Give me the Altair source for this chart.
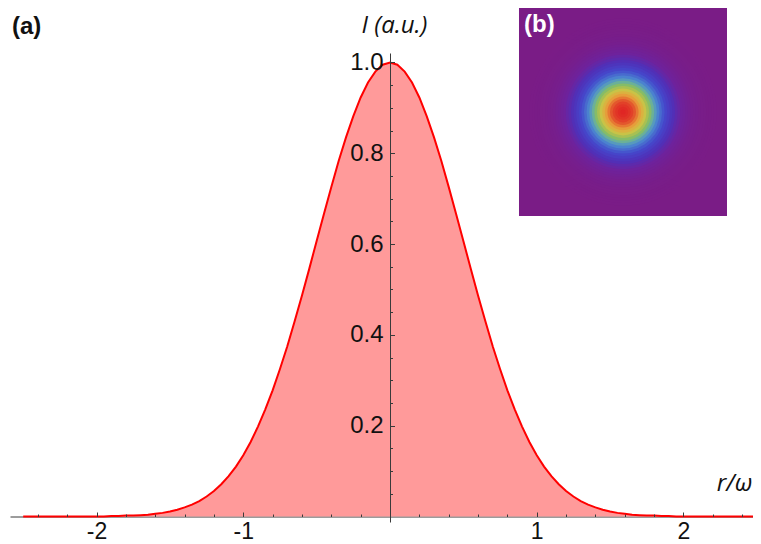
import altair as alt
import pandas as pd

# ---------------- data ----------------
r_values = [
    -2.50, -2.45, -2.40, -2.35, -2.30, -2.25, -2.20, -2.15, -2.10, -2.05,
    -2.00, -1.95, -1.90, -1.85, -1.80, -1.75, -1.70, -1.65, -1.60, -1.55,
    -1.50, -1.45, -1.40, -1.35, -1.30, -1.25, -1.20, -1.15, -1.10, -1.05,
    -1.00, -0.95, -0.90, -0.85, -0.80, -0.75, -0.70, -0.65, -0.60, -0.55,
    -0.50, -0.45, -0.40, -0.35, -0.30, -0.25, -0.20, -0.15, -0.10, -0.05,
    0.00,
    0.05, 0.10, 0.15, 0.20, 0.25, 0.30, 0.35, 0.40, 0.45, 0.50,
    0.55, 0.60, 0.65, 0.70, 0.75, 0.80, 0.85, 0.90, 0.95, 1.00,
    1.05, 1.10, 1.15, 1.20, 1.25, 1.30, 1.35, 1.40, 1.45, 1.50,
    1.55, 1.60, 1.65, 1.70, 1.75, 1.80, 1.85, 1.90, 1.95, 2.00,
    2.05, 2.10, 2.15, 2.20, 2.25, 2.30, 2.35, 2.40, 2.45, 2.50,
]
intensity = [
    0.000, 0.000, 0.000, 0.000, 0.000, 0.000, 0.000, 0.000, 0.000, 0.000,
    0.000, 0.000, 0.001, 0.001, 0.002, 0.002, 0.003, 0.004, 0.006, 0.008,
    0.011, 0.015, 0.020, 0.026, 0.034, 0.044, 0.056, 0.071, 0.089, 0.110,
    0.135, 0.164, 0.198, 0.236, 0.278, 0.325, 0.375, 0.430, 0.487, 0.546,
    0.607, 0.667, 0.726, 0.783, 0.835, 0.882, 0.923, 0.956, 0.980, 0.995,
    1.000,
    0.995, 0.980, 0.956, 0.923, 0.882, 0.835, 0.783, 0.726, 0.667, 0.607,
    0.546, 0.487, 0.430, 0.375, 0.325, 0.278, 0.236, 0.198, 0.164, 0.135,
    0.110, 0.089, 0.071, 0.056, 0.044, 0.034, 0.026, 0.020, 0.015, 0.011,
    0.008, 0.006, 0.004, 0.003, 0.002, 0.002, 0.001, 0.001, 0.000, 0.000,
    0.000, 0.000, 0.000, 0.000, 0.000, 0.000, 0.000, 0.000, 0.000, 0.000,
]

x_major = [-2, -1, 1, 2]
x_minor = [-2.4, -2.2, -1.8, -1.6, -1.4, -1.2, -0.8, -0.6, -0.4, -0.2,
           0.2, 0.4, 0.6, 0.8, 1.2, 1.4, 1.6, 1.8, 2.2, 2.4]
y_major = [0.2, 0.4, 0.6, 0.8, 1.0]
y_minor = [0.05, 0.1, 0.15, 0.25, 0.3, 0.35, 0.45, 0.5, 0.55,
           0.65, 0.7, 0.75, 0.85, 0.9, 0.95]

panel_labels = ["(a)", "(b)"]

# inset (b): image extent in units of r/w, and rainbow colour stops
inset_extent = [-2.0, 2.0]
inset_max_r = 1.8
rainbow_stops = [0.0, 0.07, 0.14, 0.25, 0.40, 0.50, 0.56, 0.68, 0.79, 0.90, 1.0]
rainbow_colors = ["#7A1C86", "#6E229C", "#5030B8", "#4448CC", "#4C8ED0", "#70B590",
                  "#8CBE5C", "#D0C445", "#E89A3A", "#E24A2A", "#E02424"]

# ---------------- layout ----------------
W, H = 743, 469
X_DOM = [-2.590, 2.474]
Y_DOM = [-0.0121, 1.0209]
X0_PX = 380.0          # pixel of r = 0 from plot left
Y0_UP_PX = 5.5         # pixel of I = 0 above plot bottom
INSET_X_DOM = [-11.788, 2.5]
INSET_Y_DOM = [-7.885, 1.1346]

FONT = "Liberation Sans"
TFONT = "Open Sans"
AX = "#3a3a3a"
TXT = "#111111"

df = pd.DataFrame({"r": r_values, "I": intensity})

xs = alt.Scale(domain=X_DOM, nice=False, zero=False)
ys = alt.Scale(domain=Y_DOM, nice=False, zero=False)

area = alt.Chart(df).mark_area(color="#FF9A9A", clip=True).encode(
    x=alt.X("r:Q", scale=xs, axis=alt.Axis(
        orient="bottom", offset=-Y0_UP_PX, values=x_major, ticks=False, tickSize=0,
        labelExpr="datum.value < 0 ? '-' + abs(datum.value) : '' + datum.value",
        labelFont=FONT, labelFontSize=23, labelColor=TXT, labelPadding=4,
        domainColor=AX, grid=False, zindex=0,
        title="r/ω", titleFont=TFONT, titleFontSize=24, titleFontStyle="italic",
        titleFontWeight="normal", titleColor=TXT, titleX=724, titleY=-33,
        titleAlign="center", titleBaseline="middle", titleAngle=0)),
    y=alt.Y("I:Q", scale=ys, axis=alt.Axis(
        orient="left", offset=-X0_PX, values=y_major, format=".1f",
        ticks=False, tickSize=0, labelFont=FONT, labelFontSize=24,
        labelColor=TXT, labelPadding=7, domainColor=AX, grid=False, zindex=1,
        title="I (a.u.)", titleFont=TFONT, titleFontSize=24, titleFontStyle="italic",
        titleFontWeight="normal", titleColor=TXT, titleAngle=0, titleX=4, titleY=-28,
        titleAlign="center", titleBaseline="middle")),
)

line = alt.Chart(df).mark_line(color="#FF0000", strokeWidth=2, clip=True).encode(
    x=alt.X("r:Q", scale=xs, axis=alt.Axis(
        orient="top", offset=-(H - Y0_UP_PX), values=x_major, labels=False,
        domain=False, tickSize=4.5, tickColor=AX, grid=False, zindex=1, title=None)),
    y=alt.Y("I:Q", scale=ys, axis=alt.Axis(
        orient="right", offset=-(W - X0_PX), values=y_major, labels=False,
        domain=False, tickSize=4.5, tickColor=AX, grid=False, zindex=1, title=None)),
)

minor = alt.Chart(df).mark_point(opacity=0).encode(
    x=alt.X("r:Q", scale=xs, axis=alt.Axis(
        orient="top", offset=-(H - Y0_UP_PX), values=x_minor, labels=False,
        domain=False, tickSize=2.5, tickColor=AX, grid=False, zindex=1, title=None)),
    y=alt.Y("I:Q", scale=ys, axis=alt.Axis(
        orient="right", offset=-(W - X0_PX), values=y_minor, labels=False,
        domain=False, tickSize=2.5, tickColor=AX, grid=False, zindex=1, title=None)),
)

lab_a = alt.Chart(pd.DataFrame({"x": [X_DOM[0]], "y": [Y_DOM[1]],
                                "t": [panel_labels[0]]})).mark_text(
    align="left", baseline="alphabetic", dx=2, dy=-19.5, fontSize=24,
    fontWeight="bold", color=TXT, font=FONT).encode(
    x=alt.X("x:Q", scale=xs, axis=None),
    y=alt.Y("y:Q", scale=ys, axis=None),
    text="t:N",
)

# ---------------- inset (b) ----------------
ix = alt.Scale(domain=INSET_X_DOM, nice=False, zero=False)
iy = alt.Scale(domain=INSET_Y_DOM, nice=False, zero=False)

bg = pd.DataFrame({"x1": [inset_extent[0]], "x2": [inset_extent[1]],
                   "y1": [inset_extent[0]], "y2": [inset_extent[1]]})
rect = alt.Chart(bg).mark_rect(color=rainbow_colors[0]).encode(
    x=alt.X("x1:Q", scale=ix, axis=None), x2="x2:Q",
    y=alt.Y("y1:Q", scale=iy, axis=None), y2="y2:Q",
)

rings_df = df[(df["r"] >= 0) & (df["r"] <= inset_max_r)].copy()
rings_df["cx"] = 0.0
rings_df["cy"] = 0.0
rings = alt.Chart(rings_df).mark_circle(opacity=1).encode(
    x=alt.X("cx:Q", scale=ix, axis=None),
    y=alt.Y("cy:Q", scale=iy, axis=None),
    size=alt.Size("r:Q", scale=alt.Scale(type="pow", exponent=2, domain=[0, 2],
                                         range=[0, 43264]), legend=None),
    color=alt.Color("I:Q", scale=alt.Scale(domain=rainbow_stops, range=rainbow_colors,
                                           interpolate="rgb"), legend=None),
    order=alt.Order("r:Q", sort="descending"),
)

lab_b = alt.Chart(pd.DataFrame({"x": [inset_extent[0]], "y": [inset_extent[1]],
                                "t": [panel_labels[1]]})).mark_text(
    align="left", baseline="top", dx=5, dy=5, fontSize=24, fontWeight="bold",
    color="white", font=FONT).encode(
    x=alt.X("x:Q", scale=ix, axis=None),
    y=alt.Y("y:Q", scale=iy, axis=None),
    text="t:N",
)

chart = alt.layer(area, line, minor, lab_a, rect, rings, lab_b).resolve_scale(
    x="independent", y="independent", size="independent", color="independent"
).resolve_axis(
    x="independent", y="independent"
).properties(
    width=W, height=H,
    padding={"left": 2, "top": 45, "right": 0, "bottom": 22},
    autosize=alt.AutoSizeParams(type="none"),
).configure_view(stroke=None)

chart.save("out.html", embed_options={"renderer": "svg", "actions": False})
